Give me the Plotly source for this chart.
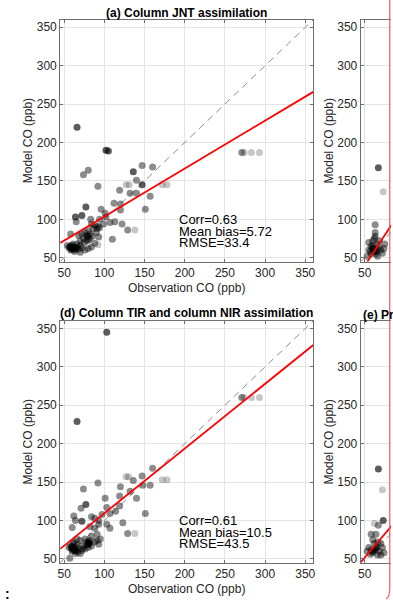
import numpy as np
import plotly.graph_objects as go

W, H = 393, 602
FONT = "Liberation Sans, Arial, Helvetica, sans-serif"
AX = "#6e6e6e"
GRID = "#e4e4e4"
TXT = "#262626"

# ---- data: (observation, model) CO in ppb ----
# (a) Column JNT assimilation
a_dark = [(66, 220), (102, 190), (105, 189), (77, 116), (72, 105), (136, 162),
          (147, 145), (64, 103), (60, 63), (63, 62), (58, 64), (79, 78)]
a_mid = [(74, 158), (80, 164), (92, 143), (147, 170), (160, 168), (140, 151),
         (119, 138), (132, 134), (140, 134), (157, 130), (112, 121), (120, 120),
         (120, 112), (151, 113), (96, 113), (101, 108), (65, 97), (83, 100),
         (94, 100), (102, 103), (107, 96), (113, 97), (122, 94), (129, 86),
         (110, 74), (58, 81), (271, 187),
         (84, 94), (88, 92), (92, 91), (86, 88), (80, 85), (76, 83), (72, 81),
         (68, 79), (78, 79), (82, 81), (90, 83), (94, 89), (99, 94), (82, 75),
         (78, 72), (74, 75), (70, 72), (66, 68), (62, 64), (58, 65), (56, 63),
         (60, 62), (64, 63), (68, 61), (72, 63), (76, 60), (80, 62), (84, 64),
         (70, 57), (58, 60), (54, 66), (88, 69), (93, 77), (91, 88), (60, 66),
         (62, 60), (65, 62), (67, 64), (63, 58), (61, 68), (59, 62), (70, 66),
         (75, 70), (80, 73), (85, 78), (57, 64), (61, 63)]
a_light = [(127, 145), (131, 145), (172, 145), (178, 145), (138, 86), (92, 67),
           (274, 187), (283, 187), (293, 187)]

# (d) Column TIR and column NIR assimilation
d_dark = [(66, 229), (103, 345), (77, 121), (72, 99), (64, 61), (80, 72),
          (62, 63), (60, 66), (81, 70)]
d_mid = [(160, 168), (147, 158), (136, 152), (157, 146), (148, 146), (132, 138),
         (140, 129), (120, 144), (119, 132), (92, 149), (74, 141), (71, 116),
         (101, 129), (114, 112), (119, 119), (97, 108), (88, 103), (84, 105),
         (93, 100), (103, 117), (107, 109), (151, 109), (123, 97), (129, 83),
         (62, 106), (64, 100), (60, 91), (82, 92), (88, 90), (93, 95), (103, 95),
         (107, 90), (91, 82), (84, 80), (57, 51), (271, 260),
         (58, 67), (62, 65), (60, 63), (64, 61), (68, 63), (66, 69), (70, 74),
         (76, 76), (78, 72), (80, 69), (82, 74), (74, 67), (72, 61), (76, 63),
         (80, 65), (84, 67), (88, 72), (91, 74), (70, 57), (64, 57), (56, 65),
         (62, 72), (66, 76), (93, 69), (95, 76), (60, 60), (62, 62), (65, 66),
         (67, 59), (61, 70), (59, 64), (78, 68), (81, 71), (73, 64)]
d_light = [(127, 157), (130, 157), (172, 153), (178, 153), (138, 83),
           (274, 260), (283, 260), (293, 260)]

# (b) and (e): only their low-concentration corner falls inside the page
b_dark = [(67, 167), (60, 62), (64, 58)]
b_mid = [(63, 93), (63, 83), (55, 70), (58, 65), (60, 62), (62, 58), (64, 55),
         (57, 58), (60, 72), (65, 68), (68, 64), (70, 60), (72, 56), (66, 52),
         (62, 75), (58, 55), (55, 60), (68, 72), (63, 78), (74, 62), (75, 68),
         (53, 52), (60, 66), (66, 60)]
b_light = [(73, 136)]

e_dark = [(67, 167), (73, 100), (60, 60), (64, 64)]
e_mid = [(64, 82), (58, 82), (67, 94), (55, 65), (58, 62), (60, 58), (62, 70),
         (65, 66), (68, 60), (70, 55), (72, 65), (57, 56), (60, 75), (66, 72),
         (70, 70), (74, 58), (53, 60), (63, 62), (66, 55)]
e_light = [(72, 140), (62, 96)]

# linear fits (slope, intercept) of model on observation
fit_a = (0.624, 41.3)
fit_d = (0.843, 25.1)
fit_b = (1.60, -40.5)
fit_e = (1.23, -9.7)

stats_a = ["Corr=0.63", "Mean bias=5.72", "RMSE=33.4"]
stats_d = ["Corr=0.61", "Mean bias=10.5", "RMSE=43.5"]

ticks = [50, 100, 150, 200, 250, 300, 350]
rng = [45, 360]


def px(x):
    return x / W


def py(y):
    return 1 - y / H


# panel geometry in page pixels
LEFT, RIGHT = 57.9, 314.3
R_LEFT = 362.3
TOP_A, BOT_A = 19.7, 262.9
TOP_D, BOT_D = 322.4, 565.6
right_rng = [45, 45 + (W - R_LEFT) / ((RIGHT - LEFT) / (rng[1] - rng[0]))]

fig = go.Figure()

panels = [
    ("x", "y", [a_dark, a_mid, a_light], fit_a),
    ("x2", "y2", [b_dark, b_mid, b_light], fit_b),
    ("x3", "y3", [d_dark, d_mid, d_light], fit_d),
    ("x4", "y4", [e_dark, e_mid, e_light], fit_e),
]
alphas = [0.64, 0.45, 0.22]

for xa, ya, groups, fit in panels:
    # 1:1 reference line
    fig.add_trace(go.Scatter(x=rng, y=rng, mode="lines", xaxis=xa, yaxis=ya,
                             line=dict(color="#8c8c8c", width=1, dash="7px,5px"),
                             hoverinfo="skip", showlegend=False))
    for pts, al in zip(groups, alphas):
        obs = [p[0] for p in pts]
        mod = [p[1] for p in pts]
        fig.add_trace(go.Scatter(x=obs, y=mod, mode="markers", xaxis=xa, yaxis=ya,
                                 marker=dict(size=7, color=f"rgba(0,0,0,{al})",
                                             line=dict(width=0)),
                                 showlegend=False))
    xs = np.array(rng, dtype=float)
    fig.add_trace(go.Scatter(x=xs, y=fit[0] * xs + fit[1], mode="lines",
                             xaxis=xa, yaxis=ya,
                             line=dict(color="#ff0000", width=1.8),
                             showlegend=False))


def axis(domain, r, mirror="allticks"):
    return dict(domain=domain, range=r, showline=True, linecolor=AX, linewidth=1,
                mirror=mirror, ticks="inside", ticklen=3, tickcolor=AX,
                showgrid=True, gridcolor=GRID, gridwidth=1, zeroline=False,
                tickvals=ticks, tickfont=dict(family=FONT, size=12, color=TXT))


ya_dom = [py(BOT_A), py(TOP_A)]
yd_dom = [py(BOT_D), py(TOP_D)]
xl_dom = [px(LEFT), px(RIGHT)]
xr_dom = [px(R_LEFT), 1]

fig.update_layout(
    width=W, height=H, autosize=False,
    margin=dict(l=0, r=0, t=0, b=0),
    paper_bgcolor="white", plot_bgcolor="white",
    xaxis=axis(xl_dom, rng) | dict(anchor="y"),
    yaxis=axis(ya_dom, rng) | dict(anchor="x"),
    xaxis2=axis(xr_dom, right_rng) | dict(anchor="y2"),
    yaxis2=axis(ya_dom, rng, mirror=False) | dict(anchor="x2"),
    xaxis3=axis(xl_dom, rng) | dict(anchor="y3"),
    yaxis3=axis(yd_dom, rng) | dict(anchor="x3"),
    xaxis4=axis(xr_dom, right_rng) | dict(anchor="y4"),
    yaxis4=axis(yd_dom, rng, mirror=False) | dict(anchor="x4"),
)

ann = []


def text(x, y, s, size=12, bold=False, angle=0, xanchor="center"):
    ann.append(dict(x=px(x), y=py(y), xref="paper", yref="paper", text=s,
                    showarrow=False, textangle=angle, xanchor=xanchor,
                    yanchor="middle",
                    font=dict(family=FONT, size=size, color="black" if bold else TXT,
                              weight="bold" if bold else "normal")))


cx = (LEFT + RIGHT) / 2
text(cx, 13.3, "(a) Column JNT assimilation", bold=True)
text(cx, 315, "(d) Column TIR and column NIR assimilation", bold=True)
text(363, 317, "(e) Profile TIR and profile NIR assimilation", bold=True,
     xanchor="left")
for top, bot in [(TOP_A, BOT_A), (TOP_D, BOT_D)]:
    cy = (top + bot) / 2
    text(25, cy, "Model CO (ppb)", angle=-90)
    text(330, cy, "Model CO (ppb)", angle=-90)
    text(cx, bot + 26.5, "Observation CO (ppb)")

# statistics block: one text element, 13px glyphs on a tight line pitch
for lines, (xa, ya) in [(stats_a, ("x", "y")), (stats_d, ("x3", "y3"))]:
    block = "<br>".join(f"<span style='font-size:13px'>{s}</span>" for s in lines)
    ann.append(dict(x=191, y=84.5, xref=xa, yref=ya, text=block, showarrow=False,
                    xanchor="left", yanchor="middle", align="left",
                    font=dict(family=FONT, size=9, color="black")))

ann.append(dict(x=0, y=py(597), xref="paper", yref="paper", text=":",
                showarrow=False, xanchor="left", yanchor="middle",
                font=dict(family=FONT, size=14, color="black", weight="bold")))
fig.update_layout(annotations=ann)

# red frame edge on the right of the page
fig.add_shape(type="path", xref="paper", yref="paper",
              path=f"M {px(391.7)} 1 L {px(391.7)} {py(592)} "
                   f"Q {px(391.7)} {py(600)} {px(388)} {py(602)}",
              line=dict(color="rgba(228,95,95,0.85)", width=1.4))

fig.write_html("out.html")
